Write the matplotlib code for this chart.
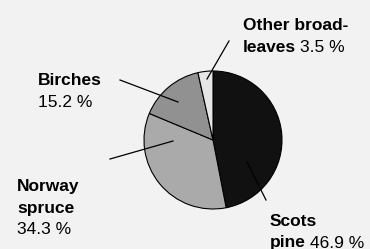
import matplotlib.pyplot as plt

plt.rcParams['font.family'] = ['Liberation Sans', 'DejaVu Sans']

# Data
species = ["Scots pine", "Norway spruce", "Birches", "Other broadleaves"]
shares = [46.9, 34.3, 15.2, 3.5]
colors = ["#111111", "#aaaaaa", "#919191", "#e6e6e6"]

# label text: bold lines, whether the value sits on the last bold line
label_lines = [["Scots", "pine"], ["Norway", "spruce"], ["Birches"], ["Other broad-", "leaves"]]
value_inline = [True, False, False, True]
# label anchor (x, y of first line) in pixel coords, y down
label_pos = [(270, 221), (17, 186), (38, 80), (243, 25)]
# leader lines (inner point, outer point), pixel coords
leaders = [
    ((247, 162), (266, 200)),
    ((173, 141), (110, 159)),
    ((178, 102), (120, 80)),
    ((207, 79), (229, 41)),
]

W, H = 370, 249
fig = plt.figure(figsize=(W / 100, H / 100), dpi=100, facecolor="#f2f2f2")
ax = fig.add_axes([0, 0, 1, 1])

cx, cy, r = 213, H - 140, 69
ax.pie(shares, colors=colors, startangle=90, counterclock=False,
       center=(cx, cy), radius=r, frame=True,
       wedgeprops=dict(edgecolor="black", linewidth=0.8))
ax.set_xlim(0, W)
ax.set_ylim(0, H)
ax.set_aspect("equal")
ax.axis("off")

for p0, p1 in leaders:
    ax.plot([p0[0], p1[0]], [H - p0[1], H - p1[1]], color="black", lw=0.9)

fs = 12.5
lh = 22
renderer = fig.canvas.get_renderer()
for share, lines, inline, (x, y) in zip(shares, label_lines, value_inline, label_pos):
    value = f"{share:.1f} %"
    for i, line in enumerate(lines):
        t = ax.text(x, H - (y + i * lh), line, fontsize=fs, fontweight="bold",
                    ha="left", va="center")
    if inline:
        bb = t.get_window_extent(renderer)
        x_end = ax.transData.inverted().transform((bb.x1, bb.y0))[0]
        ax.text(x_end + 4, H - (y + (len(lines) - 1) * lh), value,
                fontsize=fs, ha="left", va="center")
    else:
        ax.text(x, H - (y + len(lines) * lh), value, fontsize=fs,
                ha="left", va="center")

fig.savefig("out.png", dpi=100, facecolor=fig.get_facecolor())
